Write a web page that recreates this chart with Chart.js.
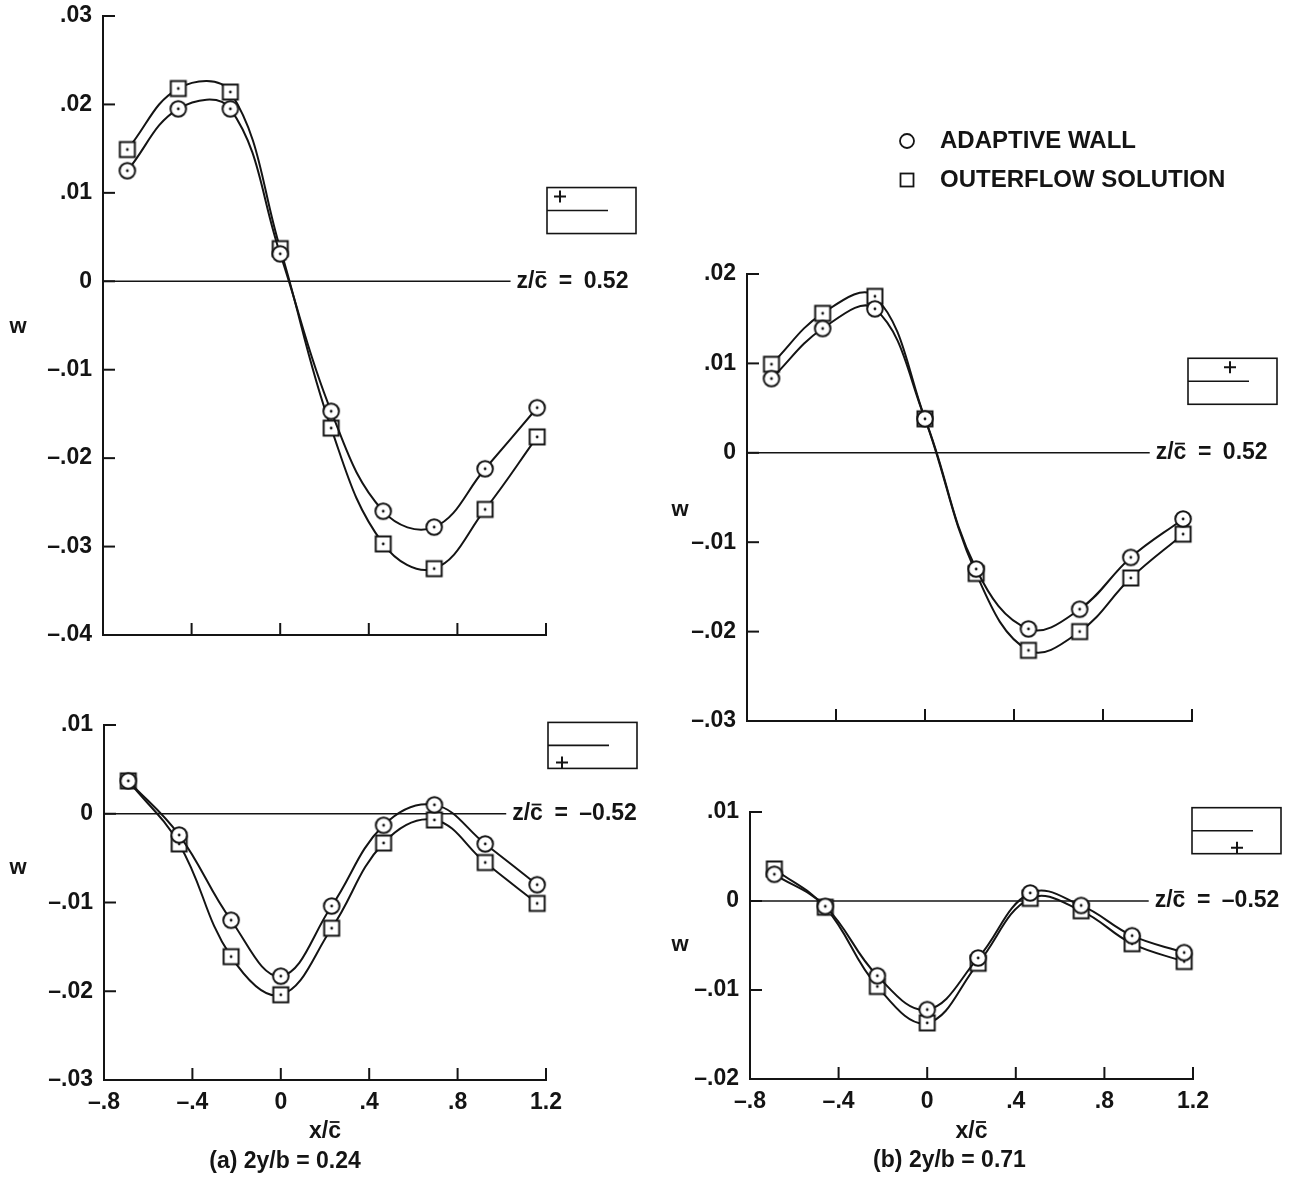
<!DOCTYPE html>
<html>
<head>
<meta charset="utf-8">
<title>Adaptive wall vs outerflow solution</title>
<script src="https://cdn.jsdelivr.net/npm/chart.js@4.4.1/dist/chart.umd.min.js"></script>
<style>
  html, body { margin: 0; padding: 0; background: #fff; }
  #page { position: relative; width: 1298px; height: 1186px; overflow: hidden; }
  canvas { position: absolute; }
</style>
</head>
<body>
<div id="page">
  <canvas id="tl" width="650" height="700" style="left:0;top:-20px"></canvas>
  <canvas id="bl" width="650" height="506" style="left:0;top:680px"></canvas>
  <canvas id="tr" width="648" height="660" style="left:650px;top:100px"></canvas>
  <canvas id="br" width="648" height="446" style="left:650px;top:740px"></canvas>
</div>
<script>
// x/c stations shared by every panel
var xStations = [-0.69, -0.46, -0.225, 0, 0.23, 0.465, 0.695, 0.925, 1.16];

// (a) 2y/b = 0.24
var aUpperWall  = [0.0125, 0.0195, 0.0195, 0.0031, -0.0147, -0.0260, -0.0278, -0.0212, -0.0143];
var aUpperOuter = [0.0149, 0.0218, 0.0214, 0.0037, -0.0166, -0.0297, -0.0325, -0.0258, -0.0176];
var aLowerWall  = [0.0037, -0.0024, -0.0120, -0.0183, -0.0104, -0.0013, 0.0010, -0.0034, -0.0080];
var aLowerOuter = [0.0037, -0.0034, -0.0161, -0.0204, -0.0129, -0.0033, -0.0007, -0.0055, -0.0101];

// (b) 2y/b = 0.71
var bUpperWall  = [0.0083, 0.0139, 0.0161, 0.0038, -0.0130, -0.0197, -0.0175, -0.0117, -0.0074];
var bUpperOuter = [0.0099, 0.0156, 0.0175, 0.0038, -0.0135, -0.0221, -0.0200, -0.0140, -0.0091];
var bLowerWall  = [0.0030, -0.0006, -0.0084, -0.0122, -0.0064, 0.0009, -0.0005, -0.0039, -0.0058];
var bLowerOuter = [0.0036, -0.0007, -0.0096, -0.0137, -0.0070, 0.0003, -0.0011, -0.0048, -0.0068];

// axis ranges [min, max] for w, and x/c range
var xRange = [-0.8, 1.2];
var wRangeAUpper = [-0.04, 0.03];
var wRangeALower = [-0.03, 0.01];
var wRangeBUpper = [-0.03, 0.02];
var wRangeBLower = [-0.02, 0.01];

// where the w = 0 line stops (x/c), before the z/c label
var zeroLineEnd = [1.04, 1.02, 1.01, 1.0];
var zValues = ['0.52', '\u20130.52'];
var captions = ['(a) 2y/b = 0.24', '(b) 2y/b = 0.71'];
var seriesNames = ['ADAPTIVE WALL', 'OUTERFLOW SOLUTION'];

var INK = '#141414';
var FONT = '"Liberation Sans", Arial, sans-serif';

function marker(kind, dot) {
  var c = document.createElement('canvas');
  c.width = 22; c.height = 22;
  var g = c.getContext('2d');
  g.fillStyle = '#fff';
  g.strokeStyle = INK;
  g.lineWidth = 2;
  if (kind === 'circle') {
    g.beginPath(); g.arc(11, 11, 7.8, 0, Math.PI * 2); g.fill(); g.stroke();
  } else {
    g.fillRect(3.5, 3.5, 15, 15); g.strokeRect(3.5, 3.5, 15, 15);
  }
  if (dot) {
    g.fillStyle = INK;
    g.beginPath(); g.arc(11, 11, 1.4, 0, Math.PI * 2); g.fill();
  }
  return c;
}
var circleMark = marker('circle', true);
var squareMark = marker('square', true);

function fmt(v, digits) {
  if (Math.abs(v) < 1e-9) return '0';
  var s = Math.abs(v).toFixed(digits).replace(/^0\./, '.');
  return (v < 0 ? '\u2013' : '') + s;
}

function plus(ctx, x, y, r) {
  ctx.beginPath();
  ctx.moveTo(x - r, y); ctx.lineTo(x + r, y);
  ctx.moveTo(x, y - r); ctx.lineTo(x, y + r);
  ctx.stroke();
}

// bar over the "c" of x/c and z/c; y is the text middle
function cBar(ctx, cx, y, size) {
  var w = ctx.measureText('c').width;
  ctx.save();
  ctx.lineWidth = 1.8;
  ctx.beginPath();
  ctx.moveTo(cx + 1.5, y - size * 0.4);
  ctx.lineTo(cx + w - 1.5, y - size * 0.4);
  ctx.stroke();
  ctx.restore();
}

var annot = {
  id: 'annot',
  afterDraw: function (chart, args, o) {
    var ctx = chart.ctx, a = chart.chartArea, x = chart.scales.x, y = chart.scales.y;
    ctx.save();
    ctx.strokeStyle = INK; ctx.fillStyle = INK; ctx.lineWidth = 2;

    // inward tick marks
    x.ticks.forEach(function (t) {
      if (t.value <= x.min + 1e-9) return;
      var px = x.getPixelForValue(t.value);
      ctx.beginPath(); ctx.moveTo(px, a.bottom); ctx.lineTo(px, a.bottom - 12); ctx.stroke();
    });
    y.ticks.forEach(function (t) {
      if (t.value <= y.min + 1e-9) return;
      var py = y.getPixelForValue(t.value);
      ctx.beginPath(); ctx.moveTo(a.left, py); ctx.lineTo(a.left + 12, py); ctx.stroke();
    });

    // station label at end of zero line
    var zs = 23;
    ctx.font = 'bold ' + zs + 'px ' + FONT;
    ctx.textBaseline = 'middle';
    ctx.textAlign = 'left';
    var zx = x.getPixelForValue(o.zeroEnd) + 6, zy = y.getPixelForValue(0);
    var zText = 'z/c\u2002=\u2002' + o.zValue;
    ctx.fillText(zText, zx, zy);
    cBar(ctx, zx + ctx.measureText('z/').width, zy, zs);

    // bar over c in the x axis title
    if (o.xLabels) {
      var ts = 23;
      ctx.font = 'bold ' + ts + 'px ' + FONT;
      var tw = ctx.measureText('x/c').width;
      var ty = x.bottom - (ts * 1.2 / 2 + 41);
      cBar(ctx, (a.left + a.right) / 2 - tw / 2 + ctx.measureText('x/').width, ty, ts);
    }

    // axis letter
    ctx.font = 'bold 22px ' + FONT;
    ctx.textAlign = 'center';
    ctx.fillText('w', a.left + o.wDx, y.getPixelForValue(o.wAt));

    // small key box with flow line and +
    var ly = y.getPixelForValue(o.boxAt);
    var bx = a.right + o.boxDx;
    ctx.lineWidth = 1.6;
    ctx.strokeRect(bx, ly - 23, 89, 46);
    ctx.beginPath(); ctx.moveTo(bx, ly); ctx.lineTo(bx + 61, ly); ctx.stroke();
    ctx.lineWidth = 2;
    plus(ctx, bx + o.plusDx, ly + o.plusDy, 6);

    if (o.caption) {
      ctx.font = 'bold 23px ' + FONT;
      ctx.textAlign = 'center';
      ctx.fillText(o.caption, (a.left + a.right) / 2 + o.capDx, a.bottom + 82);
    }

    if (o.legend) {
      var lx = o.legend[0], l1 = o.legend[1], l2 = o.legend[2];
      ctx.lineWidth = 1.8;
      ctx.beginPath(); ctx.arc(lx, l1, 7, 0, Math.PI * 2); ctx.stroke();
      ctx.strokeRect(lx - 6.5, l2 - 6.5, 13, 13);
      ctx.font = 'bold 24px ' + FONT;
      ctx.textAlign = 'left';
      ctx.fillText(seriesNames[0], lx + 33, l1);
      ctx.fillText(seriesNames[1], lx + 33, l2);
    }
    ctx.restore();
  }
};

function panel(id, wall, outer, wRange, p) {
  var curve = function (vals, mark, label) {
    return {
      label: label,
      data: xStations.map(function (xv, i) { return { x: xv, y: vals[i] }; }),
      borderColor: INK, borderWidth: 2, tension: 0.4,
      pointStyle: mark, pointRadius: 8, clip: false, order: 1
    };
  };
  return new Chart(document.getElementById(id), {
    type: 'line',
    data: {
      datasets: [
        curve(wall, circleMark, seriesNames[0]),
        curve(outer, squareMark, seriesNames[1]),
        {
          label: 'w = 0',
          data: [{ x: xRange[0], y: 0 }, { x: p.zeroEnd, y: 0 }],
          borderColor: INK, borderWidth: 1.5, pointRadius: 0, tension: 0, order: 3
        }
      ]
    },
    options: {
      responsive: false,
      animation: false,
      events: [],
      layout: { padding: p.pad },
      plugins: {
        legend: { display: false },
        tooltip: { enabled: false },
        annot: p
      },
      scales: {
        x: {
          type: 'linear', min: xRange[0], max: xRange[1],
          grid: { drawOnChartArea: false, drawTicks: false, color: 'rgba(0,0,0,0)' },
          border: { color: INK, width: 2 },
          ticks: {
            display: p.xLabels, stepSize: 0.4, padding: 9, color: INK,
            font: { family: FONT, size: 23, weight: 'bold' },
            callback: function (v) { return fmt(v, 1); }
          },
          title: {
            display: p.xLabels, text: 'x/c', color: INK,
            font: { family: FONT, size: 23, weight: 'bold' },
            padding: { top: 0, bottom: 41 }
          },
          afterFit: function (s) { s.height = p.xH; }
        },
        y: {
          type: 'linear', min: wRange[0], max: wRange[1],
          grid: { drawOnChartArea: false, drawTicks: false, color: 'rgba(0,0,0,0)' },
          border: { color: INK, width: 2 },
          ticks: {
            stepSize: 0.01, padding: 11, color: INK,
            font: { family: FONT, size: 23, weight: 'bold' },
            callback: function (v) { return fmt(v, 2); }
          },
          afterFit: function (s) { s.width = p.yW; }
        }
      }
    },
    plugins: [annot]
  });
}

panel('tl', aUpperWall, aUpperOuter, wRangeAUpper, {
  pad: { left: 0, right: 104, top: 36, bottom: 45 }, yW: 103, xH: 0, xLabels: false,
  zeroEnd: zeroLineEnd[0], zValue: zValues[0], wDx: -85, wAt: -0.0052,
  boxAt: 0.008, boxDx: 1, plusDx: 13, plusDy: -14
});
panel('bl', aLowerWall, aLowerOuter, wRangeALower, {
  pad: { left: 0, right: 104, top: 45, bottom: 0 }, yW: 104, xH: 106, xLabels: true,
  zeroEnd: zeroLineEnd[1], zValue: zValues[1], wDx: -86, wAt: -0.0061,
  boxAt: 0.0077, boxDx: 2, plusDx: 14, plusDy: 17,
  caption: captions[0], capDx: -40
});
panel('tr', bUpperWall, bUpperOuter, wRangeBUpper, {
  pad: { left: 0, right: 106, top: 174, bottom: 39 }, yW: 97, xH: 0, xLabels: false,
  zeroEnd: zeroLineEnd[2], zValue: zValues[0], wDx: -67, wAt: -0.0064,
  boxAt: 0.008, boxDx: -4, plusDx: 42, plusDy: -14,
  legend: [257, 41, 80]
});
panel('br', bLowerWall, bLowerOuter, wRangeBLower, {
  pad: { left: 0, right: 105, top: 72, bottom: 0 }, yW: 100, xH: 107, xLabels: true,
  zeroEnd: zeroLineEnd[3], zValue: zValues[1], wDx: -70, wAt: -0.0049,
  boxAt: 0.0079, boxDx: -1, plusDx: 45, plusDy: 17,
  caption: captions[1], capDx: -22
});
</script>
</body>
</html>
